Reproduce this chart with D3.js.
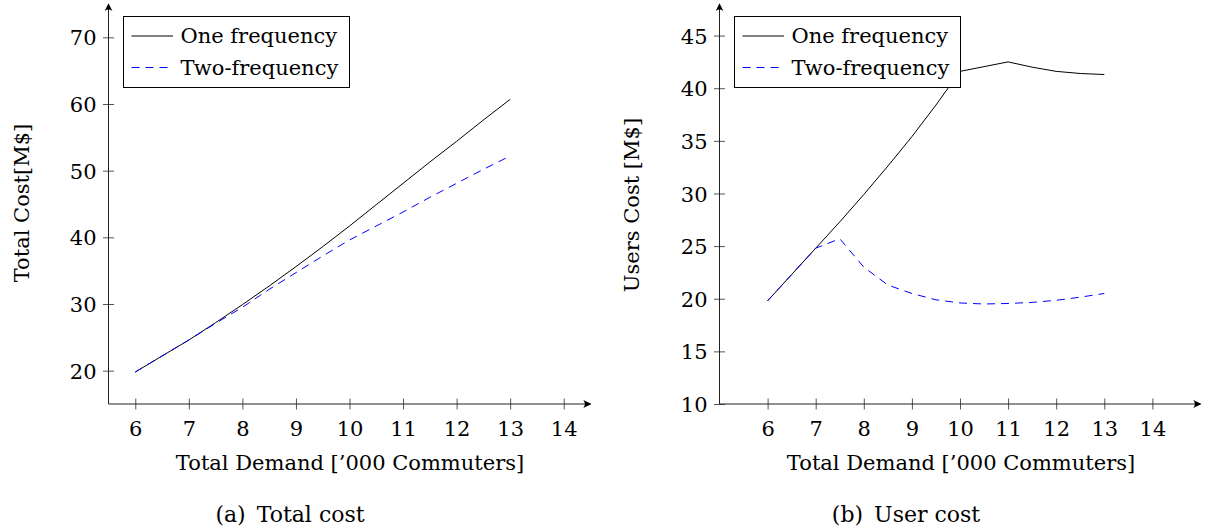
<!DOCTYPE html>
<html>
<head>
<meta charset="utf-8">
<script src="https://cdnjs.cloudflare.com/ajax/libs/d3/7.8.5/d3.min.js"></script>
<style>
  body { margin: 0; background: #fff; }
  svg { display: block; }
  text { font-family: "DejaVu Serif", "Liberation Serif", serif; fill: #000; }
</style>
</head>
<body>
<div id="chart"></div>
<script>
// demand levels ('000 commuters)
var demand = [6, 6.5, 7, 7.5, 8, 8.5, 9, 9.5, 10, 10.5, 11, 11.5, 12, 12.5, 13];

// (a) total cost [M$]
var totalOne = [19.8, 22.2, 24.6, 27.2, 29.9, 32.7, 35.6, 38.6, 41.7, 44.9, 48.1, 51.3, 54.4, 57.6, 60.7];
var totalTwo = [19.8, 22.2, 24.6, 27.1, 29.5, 32.2, 34.7, 37.2, 39.6, 41.7, 43.8, 46.0, 48.1, 50.2, 52.2];

// (b) users cost [M$]
var userOne = [19.8, 22.3, 24.8, 27.3, 29.9, 32.6, 35.4, 38.4, 41.6, 42.05, 42.5, 42.0, 41.6, 41.4, 41.3];
var userTwo = [19.8, 22.3, 24.8, 25.7, 23.0, 21.3, 20.5, 19.9, 19.6, 19.5, 19.55, 19.65, 19.85, 20.15, 20.5];

// ticks
var xTicks = [6, 7, 8, 9, 10, 11, 12, 13, 14];
var yTicksTotal = [20, 30, 40, 50, 60, 70];
var yTicksUser = [10, 15, 20, 25, 30, 35, 40, 45];

var seriesNames = ["One frequency", "Two-frequency"];

var W = 1207, H = 531;
var FONT = "DejaVu Serif";

var svg = d3.select("#chart")
    .append("svg")
    .attr("width", W)
    .attr("height", H);

// arrow head for the axis lines
svg.append("defs").append("marker")
    .attr("id", "arrow")
    .attr("viewBox", "0 0 10 10")
    .attr("refX", 9)
    .attr("refY", 5)
    .attr("markerWidth", 8)
    .attr("markerHeight", 8)
    .attr("markerUnits", "userSpaceOnUse")
    .attr("orient", "auto")
    .append("path")
        .attr("d", "M0,0 Q4,5 0,10 L10,5 Z")
        .attr("fill", "#000");

function drawPanel(cfg)
{
    var x = d3.scaleLinear().domain(cfg.xDomain).range(cfg.xRange);
    var y = d3.scaleLinear().domain(cfg.yDomain).range([404, 4]);

    var g = svg.append("g");
    var x0 = cfg.xRange[0], y0 = 404;

    // x axis (ticks cross the line)
    var xAxisG = g.append("g")
        .attr("transform", "translate(0," + y0 + ")")
        .call(d3.axisBottom(x).tickValues(xTicks).tickSize(5.5).tickFormat(d3.format("d")));
    xAxisG.select(".domain").remove();
    xAxisG.selectAll(".tick line").attr("y1", -5.5).attr("stroke", "#555");
    xAxisG.selectAll(".tick text")
        .attr("y", 32)
        .attr("dy", null)
        .attr("font-size", 21)
        .attr("font-family", FONT);

    // y axis
    var yAxisG = g.append("g")
        .attr("transform", "translate(" + x0 + ",0)")
        .call(d3.axisLeft(y).tickValues(cfg.yTicks).tickSize(5.5).tickFormat(d3.format("d")));
    yAxisG.select(".domain").remove();
    yAxisG.selectAll(".tick line").attr("x1", 5.5).attr("stroke", "#555");
    yAxisG.selectAll(".tick text")
        .attr("x", -12)
        .attr("dy", "0.36em")
        .attr("font-size", 21)
        .attr("font-family", FONT);

    // axis lines with arrows
    g.append("line")
        .attr("x1", x0).attr("y1", y0)
        .attr("x2", cfg.xRange[1]).attr("y2", y0)
        .attr("stroke", "#222").attr("stroke-width", 1)
        .attr("marker-end", "url(#arrow)");
    g.append("line")
        .attr("x1", x0).attr("y1", y0)
        .attr("x2", x0).attr("y2", 4)
        .attr("stroke", "#222").attr("stroke-width", 1)
        .attr("marker-end", "url(#arrow)");

    // curves
    var line = d3.line()
        .x(function(d, i) { return x(demand[i]); })
        .y(function(d) { return y(d); });

    g.append("path")
        .attr("d", line(cfg.one))
        .attr("fill", "none")
        .attr("stroke", "#000")
        .attr("stroke-width", 1);
    g.append("path")
        .attr("d", line(cfg.two))
        .attr("fill", "none")
        .attr("stroke", "#00f")
        .attr("stroke-width", 1)
        .attr("stroke-dasharray", "8,6");

    // axis titles
    g.append("text")
        .attr("x", cfg.xLabelX)
        .attr("y", 470)
        .attr("text-anchor", "middle")
        .attr("font-size", 21)
        .text("Total Demand [\u2019000 Commuters]");

    g.append("text")
        .attr("transform", "translate(" + cfg.yLabelX + "," + cfg.yLabelY + ") rotate(-90)")
        .attr("text-anchor", "middle")
        .attr("font-size", 21)
        .text(cfg.yLabel);

    // caption
    g.append("text")
        .attr("x", cfg.captionX)
        .attr("y", 522)
        .attr("text-anchor", "middle")
        .attr("font-size", 22)
        .text(cfg.caption);

    // legend
    var lg = g.append("g")
        .attr("transform", "translate(" + cfg.legendX + ",16)");
    lg.append("rect")
        .attr("x", 0.5).attr("y", 0.5)
        .attr("width", 226).attr("height", 71)
        .attr("fill", "#fff")
        .attr("stroke", "#000")
        .attr("stroke-width", 1);
    var items = lg.selectAll("g.item")
        .data(seriesNames)
        .join("g")
            .attr("class", "item")
            .attr("transform", function(d, i) { return "translate(0," + (i * 31.5) + ")"; });
    items.append("line")
        .attr("x1", 8.5).attr("x2", 50)
        .attr("y1", 20).attr("y2", 20)
        .attr("stroke", function(d, i) { return i ? "#00f" : "#000"; })
        .attr("stroke-width", 1)
        .attr("stroke-dasharray", function(d, i) { return i ? "8,6" : null; });
    items.append("text")
        .attr("x", 57.5)
        .attr("y", 27)
        .attr("font-size", 21)
        .text(function(d) { return d; });
}

drawPanel({
    xDomain: [5.5, 14.5], xRange: [108.5, 590.5],
    yDomain: [15, 75], yTicks: yTicksTotal,
    one: totalOne, two: totalTwo,
    yLabel: "Total Cost[M$]", yLabelX: 29, yLabelY: 203,
    xLabelX: 350, caption: "(a)\u2002Total cost", captionX: 290,
    legendX: 123
});

drawPanel({
    xDomain: [5, 15], xRange: [719.5, 1200.5],
    yDomain: [10, 48], yTicks: yTicksUser,
    one: userOne, two: userTwo,
    yLabel: "Users Cost [M$]", yLabelX: 639, yLabelY: 205,
    xLabelX: 961, caption: "(b)\u2002User cost", captionX: 906,
    legendX: 734
});
</script>
</body>
</html>
